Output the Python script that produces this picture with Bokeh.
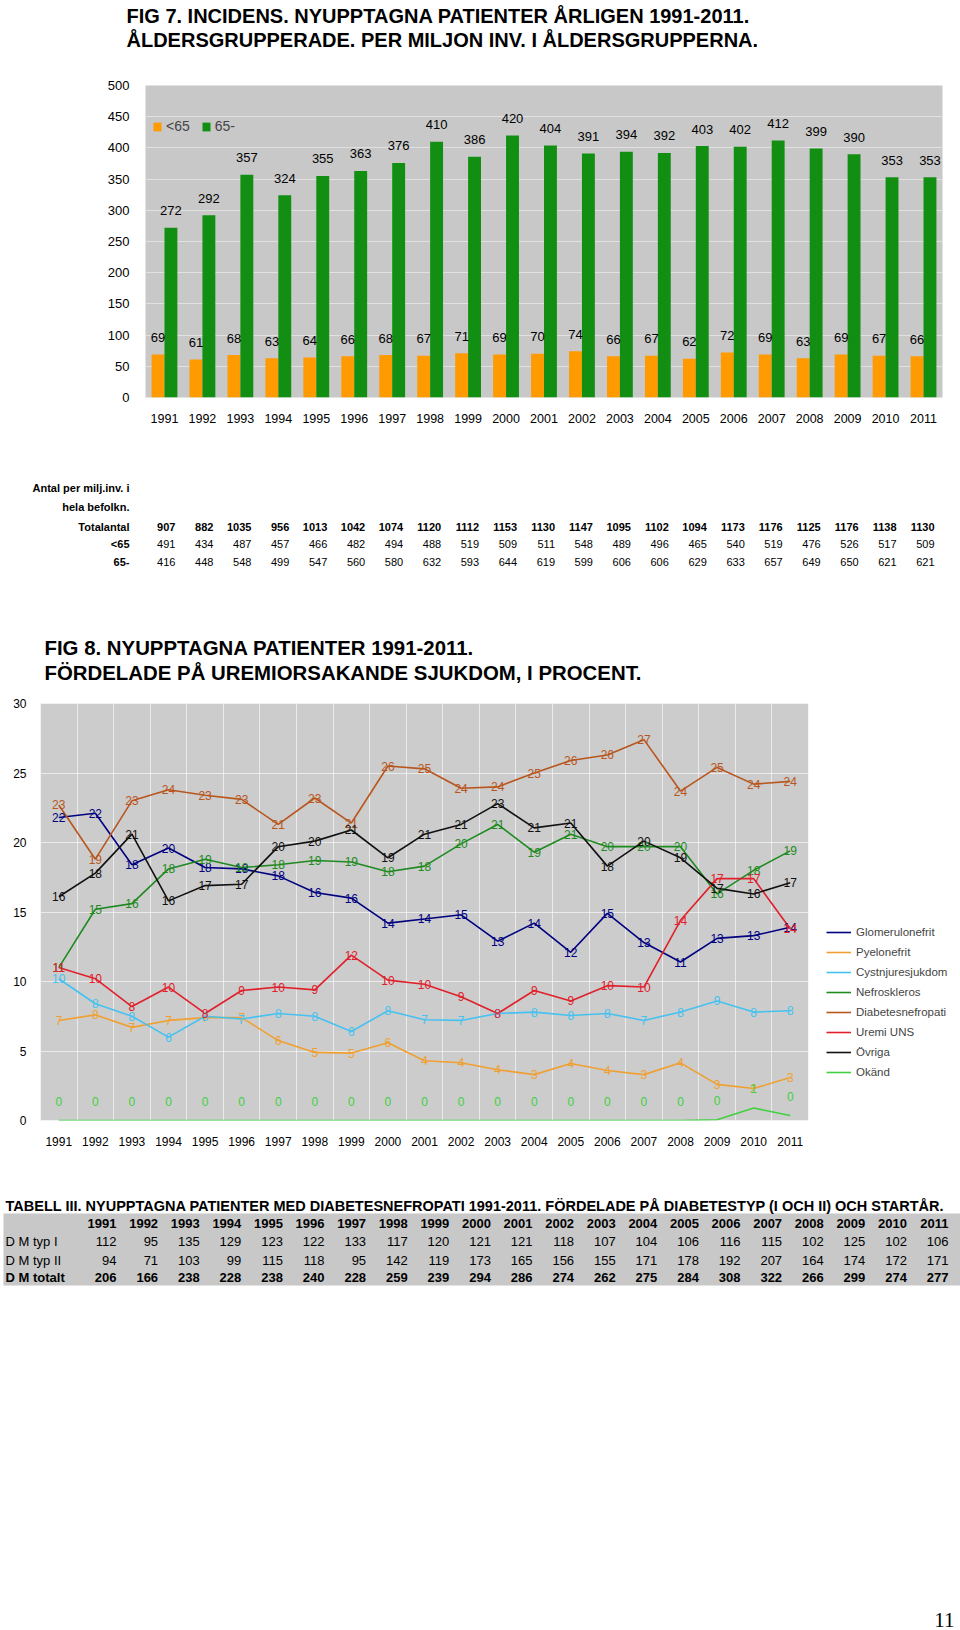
import numpy as np
from bokeh.plotting import figure
from bokeh.layouts import column
from bokeh.models import (ColumnDataSource, Range1d, FactorRange, FixedTicker,
                          Legend, LegendItem, BoxAnnotation)
from bokeh.transform import dodge
from bokeh.core.properties import value
from bokeh.embed import file_html
from bokeh.resources import INLINE

FONT = "Liberation Sans"
SERIF = "Liberation Serif"
W = 960

# ---------------- data ----------------
years = ["1991", "1992", "1993", "1994", "1995", "1996", "1997", "1998", "1999", "2000",
         "2001", "2002", "2003", "2004", "2005", "2006", "2007", "2008", "2009", "2010", "2011"]

# Fig 7: incidence per million, age groups
under65 = [69, 61, 68, 63, 64, 66, 68, 67, 71, 69, 70, 74, 66, 67, 62, 72, 69, 63, 69, 67, 66]
over65 = [272, 292, 357, 324, 355, 363, 376, 410, 386, 420, 404, 391, 394, 392, 403, 402, 412, 399, 390, 353, 353]

# Table under fig 7 (antal per milj. inv. i hela befolkn.)
tab_total = [907, 882, 1035, 956, 1013, 1042, 1074, 1120, 1112, 1153, 1130, 1147, 1095, 1102, 1094, 1173, 1176, 1125, 1176, 1138, 1130]
tab_u65 = [491, 434, 487, 457, 466, 482, 494, 488, 519, 509, 511, 548, 489, 496, 465, 540, 519, 476, 526, 517, 509]
tab_o65 = [416, 448, 548, 499, 547, 560, 580, 632, 593, 644, 619, 599, 606, 606, 629, 633, 657, 649, 650, 621, 621]

# Fig 8: percent by primary disease
glomerulonefrit = [21.8, 22.1, 18.4, 19.6, 18.2, 18.1, 17.6, 16.4, 16.0, 14.2, 14.5, 14.8, 12.9, 14.2, 12.1, 14.9, 12.8, 11.4, 13.1, 13.3, 13.9]
pyelonefrit = [7.2, 7.6, 6.7, 7.2, 7.4, 7.4, 5.75, 4.9, 4.85, 5.6, 4.3, 4.15, 3.65, 3.3, 4.1, 3.6, 3.3, 4.15, 2.6, 2.3, 3.1]
cystnjuresjukdom = [10.2, 8.4, 7.5, 6.0, 7.5, 7.3, 7.7, 7.5, 6.4, 7.9, 7.25, 7.2, 7.7, 7.8, 7.55, 7.7, 7.2, 7.8, 8.6, 7.8, 7.9]
nefroskleros = [11.0, 15.2, 15.6, 18.1, 18.8, 18.2, 18.4, 18.7, 18.6, 17.9, 18.3, 19.9, 21.3, 19.3, 20.6, 19.7, 19.7, 19.7, 16.3, 18.0, 19.4]
diabetesnefropati = [22.7, 18.8, 23.0, 23.8, 23.4, 23.1, 21.3, 23.2, 21.4, 25.5, 25.3, 23.9, 24.0, 25.0, 25.9, 26.3, 27.4, 23.7, 25.4, 24.2, 24.4]
uremi_uns = [11.0, 10.2, 8.2, 9.6, 7.7, 9.35, 9.6, 9.4, 11.9, 10.1, 9.8, 8.9, 7.7, 9.35, 8.6, 9.7, 9.6, 14.4, 17.4, 17.4, 13.8]
ovriga = [16.1, 17.8, 20.6, 15.8, 16.9, 17.0, 19.7, 20.1, 20.9, 18.9, 20.6, 21.3, 22.8, 21.05, 21.4, 18.3, 20.1, 18.9, 16.7, 16.3, 17.1]
okand = [0, 0, 0, 0, 0, 0, 0, 0, 0, 0, 0, 0, 0, 0, 0, 0, 0, 0, 0.05, 0.9, 0.36]

series_names = ["Glomerulonefrit", "Pyelonefrit", "Cystnjuresjukdom", "Nefroskleros",
                "Diabetesnefropati", "Uremi UNS", "Övriga", "Okänd"]
series_values = [glomerulonefrit, pyelonefrit, cystnjuresjukdom, nefroskleros,
                 diabetesnefropati, uremi_uns, ovriga, okand]
series_colors = ["#000080", "#F0A030", "#45C2F0", "#1F8A1F",
                 "#B8561E", "#E0202A", "#111111", "#40D040"]

# Tabell III
dm_typ1 = [112, 95, 135, 129, 123, 122, 133, 117, 120, 121, 121, 118, 107, 104, 106, 116, 115, 102, 125, 102, 106]
dm_typ2 = [94, 71, 103, 99, 115, 118, 95, 142, 119, 173, 165, 156, 155, 171, 178, 192, 207, 164, 174, 172, 171]
dm_total = [206, 166, 238, 228, 238, 240, 228, 259, 239, 294, 286, 274, 262, 275, 284, 308, 322, 266, 299, 274, 277]

ORANGE = "#FF9A00"
GREEN = "#128F12"


def text_fig(height, xr, yr):
    f = figure(width=W, height=height, x_range=xr, y_range=yr, x_axis_type=None,
               y_axis_type=None, output_backend="svg", toolbar_location=None, min_border=0,
               frame_align=False)
    f.outline_line_color = None
    f.grid.visible = False
    return f


def style_axes(p, size_x, size_y, standoff_x, standoff_y):
    for ax in [p.xaxis[0], p.yaxis[0]]:
        ax.axis_line_color = None
        ax.major_tick_line_color = None
        ax.minor_tick_line_color = None
        ax.major_label_text_font = FONT
        ax.major_label_text_color = "black"
    p.xaxis.major_label_text_font_size = size_x
    p.yaxis.major_label_text_font_size = size_y
    p.xaxis.major_label_standoff = standoff_x
    p.yaxis.major_label_standoff = standoff_y


# ---------------- header fig 7 ----------------
h7 = text_fig(72, Range1d(0, W), Range1d(72, 0))
h7.text(x=[126, 126], y=[15, 39],
        text=["FIG 7. INCIDENS. NYUPPTAGNA PATIENTER ÅRLIGEN 1991-2011.",
              "ÅLDERSGRUPPERADE. PER MILJON INV. I ÅLDERSGRUPPERNA."],
        text_font=value(FONT), text_font_size="20px", text_font_style="bold",
        text_align="left", text_baseline="middle", text_color="black")

# ---------------- fig 7 ----------------
L7, R7, T7, B7, H7 = 145, 18, 13, 33, 358
p7 = figure(width=W, height=H7, x_range=FactorRange(*years), y_range=Range1d(0, 500),
            output_backend="svg", toolbar_location=None, frame_align=False,
            min_border_left=L7, min_border_right=R7, min_border_top=T7, min_border_bottom=B7)
p7.background_fill_color = "#C8C8C8"
p7.outline_line_color = None
p7.x_range.range_padding = 0
p7.xgrid.grid_line_color = None
p7.ygrid.grid_line_color = "white"
p7.ygrid.grid_line_alpha = 0.45
p7.ygrid.ticker = FixedTicker(ticks=list(range(0, 501, 50)))
p7.yaxis.ticker = FixedTicker(ticks=list(range(0, 501, 50)))
style_axes(p7, "12.5px", "13px", 10, 10)

frame_h7 = H7 - T7 - B7
px_per_unit7 = frame_h7 / 500.0
lab_pad7 = 17 / px_per_unit7
src7 = ColumnDataSource(dict(
    year=years, u=under65, o=over65,
    u_lab=[str(v) for v in under65], o_lab=[str(v) for v in over65],
    u_y=[v + lab_pad7 for v in under65], o_y=[v + lab_pad7 for v in over65]))
ru = p7.vbar(x=dodge("year", -0.17, range=p7.x_range), top="u", width=0.34,
             fill_color=ORANGE, line_color=None, source=src7)
ro = p7.vbar(x=dodge("year", 0.17, range=p7.x_range), top="o", width=0.34,
             fill_color=GREEN, line_color=None, source=src7)
p7.text(x=dodge("year", -0.17, range=p7.x_range), y="u_y", text="u_lab", source=src7,
        text_font=value(FONT), text_font_size="13px", text_align="center",
        text_baseline="middle", text_color="black")
p7.text(x=dodge("year", 0.17, range=p7.x_range), y="o_y", text="o_lab", source=src7,
        text_font=value(FONT), text_font_size="13px", text_align="center",
        text_baseline="middle", text_color="black")
leg7 = Legend(items=[LegendItem(label=value("<65"), renderers=[ru]),
                     LegendItem(label=value("65-"), renderers=[ro])],
              orientation="horizontal", location=(7, 263), glyph_width=10, glyph_height=11,
              label_standoff=4, spacing=11, padding=0, margin=0, label_height=16,
              border_line_color=None, background_fill_alpha=0,
              label_text_font=FONT, label_text_font_size="14px")
p7.add_layout(leg7)

# ---------------- table under fig 7 ----------------
frame_l7 = L7
frame_r7 = W - R7
bw7 = (frame_r7 - frame_l7) / 21.0
t7 = text_fig(180, Range1d(-frame_l7 / bw7, (W - frame_l7) / bw7), Range1d(180, 0))
lab_x7 = (129 - frame_l7) / bw7
t7.text(x=[lab_x7] * 5, y=[57, 76, 96, 113, 131],
        text=["Antal per milj.inv. i", "hela befolkn.", "Totalantal", "<65", "65-"],
        text_font=value(FONT), text_font_size="11px", text_font_style="bold",
        text_align="right", text_baseline="middle", text_color="black")
cx7 = [i + 0.5 for i in range(21)]
t7.text(x=cx7, y=[96] * 21, text=[str(v) for v in tab_total], x_offset=11,
        text_font=value(FONT), text_font_size="11px", text_font_style="bold",
        text_align="right", text_baseline="middle", text_color="black")
t7.text(x=cx7, y=[113] * 21, text=[str(v) for v in tab_u65], x_offset=11,
        text_font=value(FONT), text_font_size="11px",
        text_align="right", text_baseline="middle", text_color="black")
t7.text(x=cx7, y=[131] * 21, text=[str(v) for v in tab_o65], x_offset=11,
        text_font=value(FONT), text_font_size="11px",
        text_align="right", text_baseline="middle", text_color="black")

# ---------------- header fig 8 ----------------
h8 = text_fig(80, Range1d(0, W), Range1d(80, 0))
h8.text(x=[44, 44], y=[37, 62],
        text=["FIG 8. NYUPPTAGNA PATIENTER 1991-2011.",
              "FÖRDELADE PÅ UREMIORSAKANDE SJUKDOM, I PROCENT."],
        text_font=value(FONT), text_font_size="20.4px", text_font_style="bold",
        text_align="left", text_baseline="middle", text_color="black")

# ---------------- fig 8 ----------------
idx = list(range(21))
L8, T8, B8, H8 = 40, 13, 40, 470
band8 = (808 - L8) / 21.0
p8 = figure(width=W, height=H8, x_range=Range1d(-0.5, -0.5 + (W - L8) / band8),
            y_range=Range1d(0, 30),
            output_backend="svg", toolbar_location=None, frame_align=False,
            min_border_left=L8, min_border_right=0, min_border_top=T8, min_border_bottom=B8)
p8.background_fill_color = "white"
p8.outline_line_color = None
p8.add_layout(BoxAnnotation(left=-0.5, right=20.5, bottom=0, top=30, fill_color="#CCCCCC",
                            fill_alpha=1, line_color=None, level="image"))
p8.xaxis.ticker = FixedTicker(ticks=idx)
p8.xaxis.major_label_overrides = {i: y for i, y in enumerate(years)}
p8.xgrid.ticker = FixedTicker(ticks=[i - 0.5 for i in range(22)])
p8.yaxis.ticker = FixedTicker(ticks=[0, 5, 10, 15, 20, 25, 30])
p8.ygrid.ticker = FixedTicker(ticks=[0, 5, 10, 15, 20, 25, 30])
p8.grid.grid_line_color = "white"
p8.grid.grid_line_alpha = 0.6
style_axes(p8, "12px", "12px", 10, 8)

px_per_unit8 = (H8 - T8 - B8) / 30.0
line_renderers = []
for name, vals, col in zip(series_names, series_values, series_colors):
    r = p8.line(x=idx, y=vals, line_color=col, line_width=1.6)
    line_renderers.append(r)
for name, vals, col in zip(series_names, series_values, series_colors):
    pad = 19 / px_per_unit8 if name == "Okänd" else 0
    p8.text(x=idx, y=[v + pad for v in vals], text=[str(int(round(v))) for v in vals],
            text_font=value(FONT), text_font_size="12px", text_align="center",
            text_baseline="middle", text_color=col)
leg8 = Legend(items=[LegendItem(label=value(n), renderers=[r])
                     for n, r in zip(series_names, line_renderers)],
              location=(786, 38), glyph_width=25, glyph_height=20, label_height=20,
              label_standoff=5, spacing=0, padding=0, margin=0,
              border_line_color=None, background_fill_alpha=0,
              label_text_font=FONT, label_text_font_size="11.5px")
p8.add_layout(leg8)

# ---------------- Tabell III ----------------
col0, colw = 116, 41.6
t3 = text_fig(140, Range1d(-col0 / colw, (W - col0) / colw), Range1d(140, 0))
t3.add_layout(BoxAnnotation(left=(3 - col0) / colw, right=(W - col0) / colw,
                            top=53, bottom=125, fill_color="#C8C8C8", fill_alpha=1,
                            line_color=None, level="underlay"))
lx3 = (5 - col0) / colw
t3.text(x=[lx3], y=[45],
        text=["TABELL III. NYUPPTAGNA PATIENTER MED DIABETESNEFROPATI 1991-2011. FÖRDELADE PÅ DIABETESTYP (I OCH II) OCH STARTÅR."],
        text_font=value(FONT), text_font_size="14.5px", text_font_style="bold",
        text_align="left", text_baseline="middle", text_color="black")
t3.text(x=[lx3, lx3], y=[81, 100], text=["D M typ I", "D M typ II"],
        text_font=value(FONT), text_font_size="13px",
        text_align="left", text_baseline="middle", text_color="black")
t3.text(x=[lx3], y=[117], text=["D M totalt"],
        text_font=value(FONT), text_font_size="13px", text_font_style="bold",
        text_align="left", text_baseline="middle", text_color="black")
cx3 = list(range(21))
t3.text(x=cx3, y=[63] * 21, text=years,
        text_font=value(FONT), text_font_size="13px", text_font_style="bold",
        text_align="right", text_baseline="middle", text_color="black")
t3.text(x=cx3, y=[81] * 21, text=[str(v) for v in dm_typ1],
        text_font=value(FONT), text_font_size="13px",
        text_align="right", text_baseline="middle", text_color="black")
t3.text(x=cx3, y=[100] * 21, text=[str(v) for v in dm_typ2],
        text_font=value(FONT), text_font_size="13px",
        text_align="right", text_baseline="middle", text_color="black")
t3.text(x=cx3, y=[117] * 21, text=[str(v) for v in dm_total],
        text_font=value(FONT), text_font_size="13px", text_font_style="bold",
        text_align="right", text_baseline="middle", text_color="black")

# ---------------- footer ----------------
ft = text_fig(328, Range1d(0, W), Range1d(328, 0))
ft.text(x=[954], y=[319], text=["11"], text_font=value(SERIF), text_font_size="21px",
        text_align="right", text_baseline="middle", text_color="black")

page = column(h7, p7, t7, h8, p8, t3, ft, spacing=0)
open("out.html", "w").write(file_html(page, INLINE))
